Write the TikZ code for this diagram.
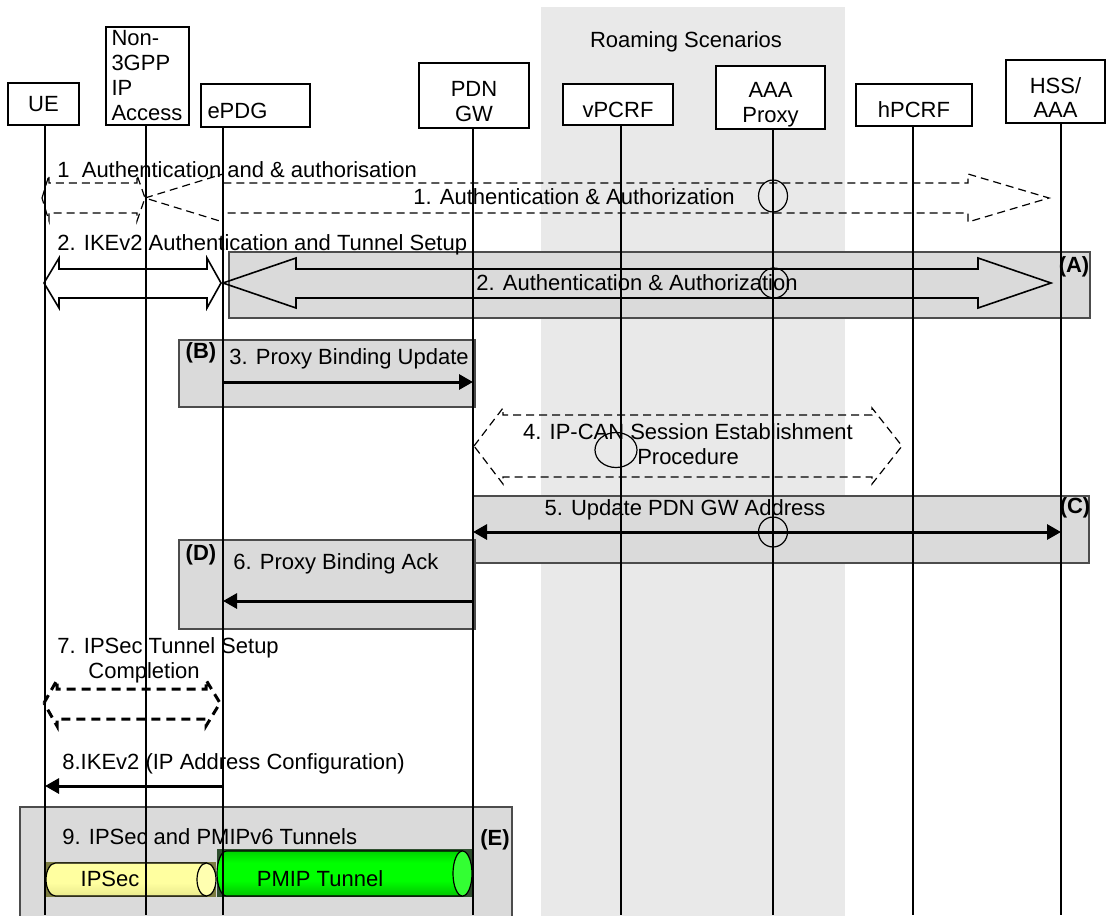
\documentclass[tikz,border=0pt]{standalone}
\usepackage{fontspec}
\setmainfont{Liberation Sans}
\usetikzlibrary{arrows.meta}
\definecolor{roamgray}{HTML}{E9E9E9}
\definecolor{stagegray}{HTML}{DADADA}
\definecolor{ipsecbody}{HTML}{FFFFA0}
\definecolor{ipsectop}{HTML}{D8D878}
\definecolor{ipsecbottom}{HTML}{8C8C3C}
\definecolor{ipsecmid}{HTML}{E6E68A}
\definecolor{ipseccap}{HTML}{FFFFB0}
\definecolor{ipsecshadow}{HTML}{7C7C40}
\definecolor{pmipbody}{HTML}{00FF00}
\definecolor{pmiptop}{HTML}{0A4A0A}
\definecolor{pmipbottom}{HTML}{0A400A}
\definecolor{pmipmid}{HTML}{00B400}
\definecolor{pmipcap}{HTML}{33FF33}
\definecolor{pmipshadow}{HTML}{2F4F2F}
\pgfdeclareverticalshading{ipsecshade}{100bp}{color(0bp)=(ipsecbottom); color(22bp)=(ipsecmid); color(45bp)=(ipsecbody); color(82bp)=(ipsecbody); color(100bp)=(ipsectop)}
\pgfdeclareverticalshading{pmipshade}{100bp}{color(0bp)=(pmipbottom); color(20bp)=(pmipmid); color(42bp)=(pmipbody); color(62bp)=(pmipbody); color(84bp)=(pmipmid); color(100bp)=(pmiptop)}

\begin{document}
\begin{tikzpicture}[
		x=0.5pt, y=-0.5pt,
		every node/.style={font=\fontsize{11}{12.5}\selectfont},
		entity/.style={
			draw,
			line width=0.8pt,
			fill=white,
			inner sep=0pt,
			align=center
		},
		lowtext/.style={text height=13pt, text depth=0pt},
		stage/.style={draw=black!70, line width=0.8pt, fill=stagegray},
		lifeline/.style={line width=0.8pt},
		msglabel/.style={inner sep=0pt, text height=9pt, text depth=1.5pt},
		tag/.style={inner sep=0pt, font=\fontsize{11}{12.5}\selectfont\bfseries},
		hollow/.style={line width=0.8pt, line join=miter},
		dashhollow/.style={line width=0.6pt, dash pattern=on 4pt off 2.5pt},
		thickdash/.style={line width=1.5pt, dash pattern=on 4.5pt off 3pt},
		msg/.style={line width=1.5pt, -{Triangle[length=7pt, width=7.5pt]}},
		marker/.style={line width=0.6pt}
		]
		\useasboundingbox (0,0) rectangle (1106,915);
		
		% Roaming area
		\fill[roamgray] (541,7) rectangle (845,918);
		\node (roam) at (686,42) {Roaming Scenarios};
		
		% Entities
		\node[entity, minimum width=35.5pt, minimum height=21pt] (ue) at (43.5,104) {UE};
		\node[entity, minimum width=41.5pt, minimum height=49pt, text width=36pt, align=left] (access) at (147.5,76) {Non-\\3GPP\\IP\\Access};
		\node[entity, lowtext, minimum width=54.5pt, minimum height=21.5pt, text width=48pt, align=left] (epdg) at (255.5,105.5) {ePDG};
		\node[entity, minimum width=55pt, minimum height=32.5pt] (pdngw) at (474,95.5) {\rule{0pt}{14pt}PDN\\GW};
		\node[entity, lowtext, minimum width=55pt, minimum height=20.5pt] (vpcrf) at (618,104.5) {vPCRF};
		\node[entity, minimum width=54.5pt, minimum height=31.5pt] (aaa) at (770.5,97.5) {\rule{0pt}{15pt}AAA\\Proxy};
		\node[entity, lowtext, minimum width=58pt, minimum height=21pt] (hpcrf) at (914,105) {hPCRF};
		\node[entity, minimum width=49.5pt, minimum height=31.5pt] (hss) at (1055.5,91.5) {\rule{0pt}{14pt}HSS/\\AAA};
		
		% Lifeline ends
		\coordinate (ue-end) at (45,915);
		\coordinate (access-end) at (146,915);
		\coordinate (epdg-end) at (223,915);
		\coordinate (pdngw-end) at (473,915);
		\coordinate (vpcrf-end) at (621,915);
		\coordinate (aaa-end) at (773,915);
		\coordinate (hpcrf-end) at (913,915);
		\coordinate (hss-end) at (1061,915);
		
		% Shaded steps
		\draw[stage] (229,252) rectangle (1090,318);
		\draw[stage] (179,340) rectangle (475,407);
		\draw[stage] (473,496) rectangle (1089,563);
		\draw[stage] (179,540) rectangle (475,629);
		\draw[stage] (20,807) rectangle (512,920);
		
		% 1. Authentication (dashed)
		\draw[dashhollow] (42,198) -- (49,175) -- (49,183) -- (137,183) -- (137,175) -- (145,198)
			-- (137,221) -- (137,213) -- (49,213) -- (49,221) -- cycle;
		\draw[dashhollow] (145,198) -- (223,174) -- (223,183) -- (968,183) -- (968,174) -- (1049,198)
			-- (968,222) -- (968,213) -- (223,213) -- (223,222) -- cycle;
		
		% 2. Authentication
		\draw[hollow] (44,283) -- (59,258) -- (59,269) -- (207,269) -- (207,258) -- (221,283)
			-- (207,308) -- (207,298) -- (59,298) -- (59,308) -- cycle;
		\draw[hollow] (223,283) -- (296,258) -- (296,269) -- (978,269) -- (978,258) -- (1051,283)
			-- (978,308) -- (978,298) -- (296,298) -- (296,308) -- cycle;
		
		% 4. IP-CAN session
		\draw[dashhollow] (474,446) -- (503,408) -- (503,415) -- (872,415) -- (872,408) -- (902,446)
			-- (872,484) -- (872,477) -- (503,477) -- (503,484) -- cycle;
		
		% 7. IPSec tunnel setup
		\draw[thickdash] (44,703) -- (57,680) -- (57,689) -- (206,689) -- (206,680) -- (220,703)
			-- (206,726) -- (206,719) -- (57,719) -- (57,726) -- cycle;
		
		% Messages
		\draw[msg] (epdg-end |- 0,382) -- (pdngw-end |- 0,382);
		\draw[msg, {Triangle[length=7pt, width=7.5pt]}-{Triangle[length=7pt, width=7.5pt]}] (pdngw-end |- 0,532) -- (hss-end |- 0,532);
		\draw[msg] (pdngw-end |- 0,601) -- (epdg-end |- 0,601);
		\draw[msg] (epdg-end |- 0,786) -- (ue-end |- 0,786);
		
		% Tunnels
		\fill[ipsecshadow] (46,862) rectangle (216,897);
		\shadedraw[shading=ipsecshade, line width=0.6pt]
			(206.5,863) -- (55.5,863) arc[start angle=270, end angle=90, x radius=9.5, y radius=16.5] -- (206.5,896) -- cycle;
		\filldraw[fill=ipseccap, line width=0.6pt] (206.5,879.5) ellipse[x radius=9.5, y radius=16.5];
		\fill[pmipshadow] (217,849) rectangle (472,897);
		\shadedraw[shading=pmipshade, line width=0.6pt]
			(462.5,851) -- (226.5,851) arc[start angle=270, end angle=90, x radius=9.5, y radius=22.5] -- (462.5,896) -- cycle;
		\filldraw[fill=pmipcap, line width=0.6pt] (462.5,873.5) ellipse[x radius=9.5, y radius=22.5];
		
		% Labels
		\node[msglabel, anchor=west] (lbl1a) at (57,170) {1\ \ Authentication and \& authorisation};
		\node[msglabel] (lbl1b) at (574,197) {1. Authentication \& Authorization};
		\node[msglabel, anchor=west] (lbl2a) at (57,243) {2. IKEv2 Authentication and Tunnel Setup};
		\node[msglabel] (lbl2b) at (637,283) {2. Authentication \& Authorization};
		\node[tag] (tagA) at (1074,267) {(A)};
		\node[tag] (tagB) at (201,353) {(B)};
		\node[msglabel, anchor=west] (lbl3) at (229,357) {3. Proxy Binding Update};
		\node[align=center, inner sep=0pt] (lbl4) at (688,444) {4. IP-CAN Session Establishment\\Procedure};
		\node[msglabel] (lbl5) at (685,508) {5. Update PDN GW Address};
		\node[tag] (tagC) at (1075,508) {(C)};
		\node[tag] (tagD) at (201,555) {(D)};
		\node[msglabel, anchor=west] (lbl6) at (233,562) {6. Proxy Binding Ack};
		\node[align=left, inner sep=0pt, anchor=west] (lbl7) at (57,660) {7. IPSec Tunnel Setup\\\hspace*{15.5pt}Completion};
		\node[msglabel, anchor=west] (lbl8) at (62,762) {8.IKEv2 (IP Address Configuration)};
		\node[msglabel, anchor=west] (lbl9) at (62,837) {9. IPSec and PMIPv6 Tunnels};
		\node[tag] (tagE) at (495,840) {(E)};
		\node[msglabel] (ipsec) at (110,879) {IPSec};
		\node[msglabel] (pmip) at (320,879) {PMIP Tunnel};
		
		% Lifelines
		\foreach \n in {ue,access,epdg,pdngw,vpcrf,aaa,hpcrf,hss}
			\draw[lifeline] (\n-end |- \n.south) -- (\n-end);
		
		% Markers on lifelines
		\draw[marker] (773,196) ellipse[x radius=14.5, y radius=16];
		\draw[marker] (774,283) ellipse[x radius=14.5, y radius=15];
		\draw[marker] (616,450) ellipse[x radius=21, y radius=17.5];
		\draw[marker] (773,532) ellipse[x radius=14.5, y radius=15];
		
	\end{tikzpicture}
\end{document}
